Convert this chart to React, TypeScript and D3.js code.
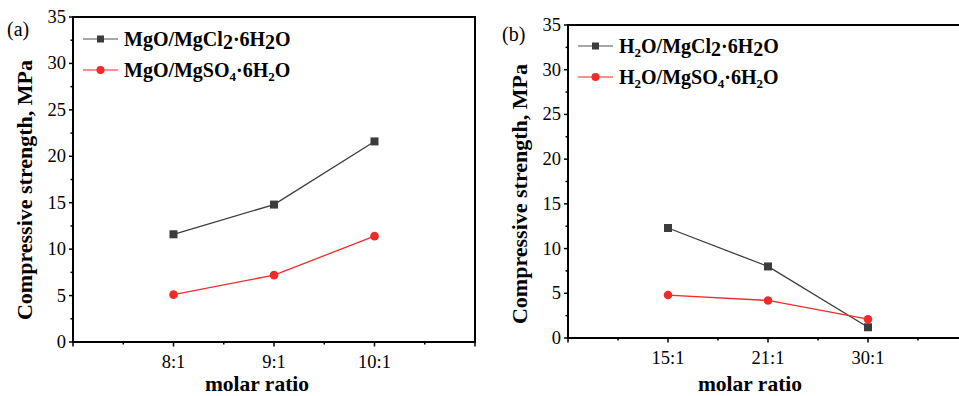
import React, { useRef, useEffect } from 'react';
import * as d3 from 'd3';

// panel (a)
const ratiosA = ['8:1', '9:1', '10:1'];
const chlorideA = [11.6, 14.8, 21.6];
const sulfateA = [5.1, 7.2, 11.4];

// panel (b)
const ratiosB = ['15:1', '21:1', '30:1'];
const chlorideB = [12.3, 8.0, 1.2];
const sulfateB = [4.8, 4.2, 2.1];

const yTicks = [0, 5, 10, 15, 20, 25, 30, 35];

// legend labels as segments: n = normal, s = small subscript, b = big lowered digit
type Seg = [string, 'n' | 's' | 'b'];
const legendA: Seg[][] = [
  [['MgO/MgCl', 'n'], ['2', 'b'], ['·6H', 'n'], ['2', 'b'], ['O', 'n']],
  [['MgO/MgSO', 'n'], ['4', 's'], ['·6H', 'n'], ['2', 's'], ['O', 'n']],
];
const legendB: Seg[][] = [
  [['H', 'n'], ['2', 's'], ['O/MgCl', 'n'], ['2', 'b'], ['·6H', 'n'], ['2', 'b'], ['O', 'n']],
  [['H', 'n'], ['2', 's'], ['O/MgSO', 'n'], ['4', 's'], ['·6H', 'n'], ['2', 's'], ['O', 'n']],
];

const FONT = '"Liberation Serif", "Times New Roman", serif';
const GRAY = '#3c3c3c';
const RED = '#f22a2a';

interface PanelProps {
  tag: string;
  ratios: string[];
  chloride: number[];
  sulfate: number[];
  legend: Seg[][];
  box: { left: number; right: number; top: number; bottom: number };
  tagPos: [number, number];
  legendX: number;
  legendY: number[];
  yTitleX: number;
  yTitleY: number;
  xTitleX: number;
}

const drawPanel = (svg: d3.Selection<SVGSVGElement, unknown, null, undefined>, p: PanelProps) => {
  const { left, right, top, bottom } = p.box;
  const g = svg.append('g');

  const x = d3.scaleLinear().domain([0, 4]).range([left, right]);
  const y = d3.scaleLinear().domain([0, 35]).range([bottom, top]);

  // frame
  g.append('rect')
    .attr('x', left).attr('y', top)
    .attr('width', right - left).attr('height', bottom - top)
    .attr('fill', 'none').attr('stroke', '#000').attr('stroke-width', 2);

  // y ticks
  const yMinor = d3.range(2.5, 35, 5);
  g.selectAll('.ymaj').data(yTicks).enter().append('line')
    .attr('x1', left - 4).attr('x2', left)
    .attr('y1', (d) => y(d)).attr('y2', (d) => y(d))
    .attr('stroke', '#000').attr('stroke-width', 1.5);
  g.selectAll('.ymin').data(yMinor).enter().append('line')
    .attr('x1', left - 2.5).attr('x2', left)
    .attr('y1', (d) => y(d)).attr('y2', (d) => y(d))
    .attr('stroke', '#000').attr('stroke-width', 1.5);
  g.selectAll('.ylab').data(yTicks).enter().append('text')
    .attr('x', left - 7).attr('y', (d) => y(d) + 6)
    .attr('text-anchor', 'end')
    .attr('font-family', FONT).attr('font-size', 18.5)
    .text((d) => d);

  // x ticks
  const xMajor = d3.range(0, 5);
  const xMinor = d3.range(0.5, 4, 1);
  g.selectAll('.xmaj').data(xMajor).enter().append('line')
    .attr('x1', (d) => x(d)).attr('x2', (d) => x(d))
    .attr('y1', bottom).attr('y2', bottom + 4.5)
    .attr('stroke', '#000').attr('stroke-width', 1.5);
  g.selectAll('.xmin').data(xMinor).enter().append('line')
    .attr('x1', (d) => x(d)).attr('x2', (d) => x(d))
    .attr('y1', bottom).attr('y2', bottom + 2.5)
    .attr('stroke', '#000').attr('stroke-width', 1.5);
  g.selectAll('.xlab').data(p.ratios).enter().append('text')
    .attr('x', (d, i) => x(i + 1)).attr('y', bottom + 26)
    .attr('text-anchor', 'middle')
    .attr('font-family', FONT).attr('font-size', 18.5)
    .text((d) => d);

  // axis titles
  g.append('text')
    .attr('transform', `translate(${p.yTitleX},${p.yTitleY}) rotate(-90)`)
    .attr('text-anchor', 'middle')
    .attr('font-family', FONT).attr('font-size', 22).attr('font-weight', 'bold')
    .text('Compressive strength, MPa');
  g.append('text')
    .attr('x', p.xTitleX).attr('y', 391)
    .attr('text-anchor', 'middle')
    .attr('font-family', FONT).attr('font-size', 21.5).attr('font-weight', 'bold')
    .text('molar ratio');

  g.append('text')
    .attr('x', p.tagPos[0]).attr('y', p.tagPos[1])
    .attr('font-family', FONT).attr('font-size', 20)
    .text(p.tag);

  // series
  const line = d3.line<number>().x((d, i) => x(i + 1)).y((d) => y(d));
  g.append('path').datum(p.chloride)
    .attr('d', line).attr('fill', 'none').attr('stroke', GRAY).attr('stroke-width', 1.3);
  g.append('path').datum(p.sulfate)
    .attr('d', line).attr('fill', 'none').attr('stroke', RED).attr('stroke-width', 1.3);
  g.selectAll('.sq').data(p.chloride).enter().append('rect')
    .attr('x', (d, i) => x(i + 1) - 4).attr('y', (d) => y(d) - 4)
    .attr('width', 8).attr('height', 8).attr('fill', GRAY);
  g.selectAll('.ci').data(p.sulfate).enter().append('circle')
    .attr('cx', (d, i) => x(i + 1)).attr('cy', (d) => y(d))
    .attr('r', 4.3).attr('fill', RED);

  // legend
  p.legend.forEach((segs, k) => {
    const ly = p.legendY[k];
    const color = k === 0 ? GRAY : RED;
    g.append('line')
      .attr('x1', p.legendX).attr('x2', p.legendX + 35)
      .attr('y1', ly).attr('y2', ly)
      .attr('stroke', k === 0 ? '#8a8a8a' : '#ff6a6a').attr('stroke-width', 1.3);
    if (k === 0) {
      g.append('rect').attr('x', p.legendX + 17.5 - 3.5).attr('y', ly - 3.5)
        .attr('width', 7).attr('height', 7).attr('fill', color);
    } else {
      g.append('circle').attr('cx', p.legendX + 17.5).attr('cy', ly).attr('r', 4).attr('fill', color);
    }
    const t = g.append('text')
      .attr('x', p.legendX + 41).attr('y', ly + 7)
      .attr('font-family', FONT).attr('font-size', 20).attr('font-weight', 'bold');
    // lowered segments carry their offset, the next one returns to the baseline
    let prev = 0;
    segs.forEach(([s, kind]) => {
      const ts = t.append('tspan').text(s);
      const off = kind === 's' ? 4 : kind === 'b' ? 3 : 0;
      if (kind === 's') ts.attr('font-size', 13);
      ts.attr('dy', off - prev);
      prev = off;
    });
  });
};

const App = () => {
  const svgRef = useRef<SVGSVGElement | null>(null);

  useEffect(() => {
    const svg = d3.select(svgRef.current as SVGSVGElement);
    svg.selectAll('*').remove();

    drawPanel(svg, {
      tag: '(a)',
      ratios: ratiosA,
      chloride: chlorideA,
      sulfate: sulfateA,
      legend: legendA,
      box: { left: 73, right: 475, top: 17, bottom: 342 },
      tagPos: [7, 36],
      legendX: 83,
      legendY: [39, 70],
      yTitleX: 32,
      yTitleY: 190,
      xTitleX: 257,
    });

    drawPanel(svg, {
      tag: '(b)',
      ratios: ratiosB,
      chloride: chlorideB,
      sulfate: sulfateB,
      legend: legendB,
      box: { left: 568, right: 968, top: 25, bottom: 338 },
      tagPos: [502, 41],
      legendX: 578,
      legendY: [46, 77],
      yTitleX: 527,
      yTitleY: 194,
      xTitleX: 750,
    });
  }, []);

  return (
    <svg
      ref={svgRef}
      width={959}
      height={396}
      style={{ position: 'absolute', left: 0, top: 0, background: '#fff' }}
    />
  );
};

export default App;
